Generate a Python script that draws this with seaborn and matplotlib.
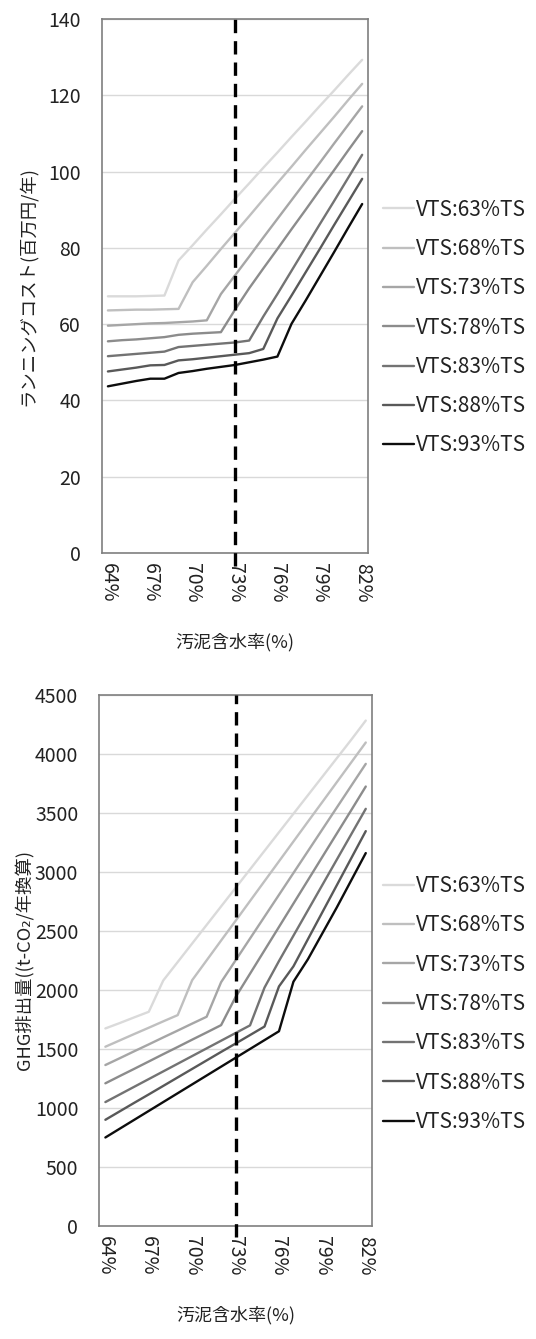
import numpy as np
import pandas as pd
import matplotlib
matplotlib.use('Agg')
import matplotlib.pyplot as plt
import seaborn as sns

sns.set_theme(style='white')
plt.rcParams['font.family'] = ['Noto Sans CJK JP', 'DejaVu Sans']

# sludge moisture content (%)
moisture = list(range(64, 83))
tick_pcts = [64, 67, 70, 73, 76, 79, 82]
series_names = ['VTS:63%TS', 'VTS:68%TS', 'VTS:73%TS', 'VTS:78%TS',
                'VTS:83%TS', 'VTS:88%TS', 'VTS:93%TS']
gray_ramp = ['#dadada', '#bfbfbf', '#a6a6a6', '#8c8c8c', '#737373', '#595959', '#0d0d0d']

# running cost (million yen / year)
cost_63 = [67.3, 67.3, 67.3, 67.4, 67.5, 76.7, 80.7, 84.8, 88.8, 92.9,
           96.9, 101.0, 105.0, 109.1, 113.1, 117.2, 121.2, 125.3, 129.3]
cost_68 = [63.6, 63.7, 63.8, 63.8, 63.9, 64.0, 71.0, 75.3, 79.7, 84.0,
           88.3, 92.7, 97.0, 101.3, 105.7, 110.0, 114.3, 118.7, 123.0]
cost_73 = [59.6, 59.8, 60.0, 60.2, 60.3, 60.5, 60.7, 61.0, 67.9, 72.8,
           77.7, 82.7, 87.6, 92.5, 97.4, 102.3, 107.3, 112.2, 117.1]
cost_78 = [55.5, 55.8, 56.0, 56.3, 56.6, 57.2, 57.5, 57.7, 57.9, 63.8,
           69.4, 74.6, 79.7, 84.9, 90.0, 95.2, 100.3, 105.5, 110.6]
cost_83 = [51.6, 51.9, 52.2, 52.5, 52.8, 54.0, 54.3, 54.6, 54.9, 55.2,
           55.7, 62.0, 67.9, 74.0, 80.1, 86.2, 92.2, 98.3, 104.4]
cost_88 = [47.6, 48.1, 48.6, 49.2, 49.3, 50.5, 50.8, 51.2, 51.6, 52.0,
           52.4, 53.5, 61.5, 67.5, 73.6, 79.7, 85.9, 92.0, 98.1]
cost_93 = [43.7, 44.4, 45.1, 45.7, 45.7, 47.2, 47.7, 48.3, 48.8, 49.3,
           50.0, 50.7, 51.5, 60.1, 66.2, 72.5, 78.8, 85.2, 91.5]

# GHG emissions (t-CO2 / year)
ghg_63 = [1674, 1720, 1768, 1815, 2080, 2237, 2394, 2551, 2708, 2865,
          3022, 3179, 3336, 3493, 3650, 3807, 3964, 4121, 4283]
ghg_68 = [1519, 1573, 1627, 1680, 1734, 1787, 2083, 2251, 2419, 2586,
          2754, 2922, 3090, 3258, 3426, 3593, 3761, 3929, 4097]
ghg_73 = [1364, 1422, 1481, 1539, 1598, 1656, 1715, 1773, 2066, 2251,
          2436, 2621, 2806, 2991, 3176, 3361, 3546, 3731, 3916]
ghg_78 = [1209, 1271, 1332, 1394, 1456, 1517, 1579, 1640, 1702, 1940,
          2138, 2336, 2534, 2732, 2930, 3128, 3326, 3524, 3724]
ghg_83 = [1050, 1115, 1180, 1245, 1310, 1375, 1440, 1505, 1570, 1635,
          1700, 2020, 2245, 2460, 2675, 2890, 3105, 3320, 3535]
ghg_88 = [900, 972, 1044, 1115, 1187, 1259, 1331, 1403, 1475, 1546,
          1618, 1690, 2030, 2200, 2430, 2659, 2888, 3117, 3346]
ghg_93 = [750, 825, 900, 975, 1050, 1125, 1200, 1275, 1350, 1425,
          1500, 1575, 1650, 2070, 2260, 2480, 2700, 2930, 3160]

cost_series = [cost_63, cost_68, cost_73, cost_78, cost_83, cost_88, cost_93]
ghg_series = [ghg_63, ghg_68, ghg_73, ghg_78, ghg_83, ghg_88, ghg_93]


def to_long(series_list):
    frames = []
    for name, vals in zip(series_names, series_list):
        frames.append(pd.DataFrame({'moisture': moisture, 'value': vals, 'VTS': name}))
    return pd.concat(frames, ignore_index=True)


def draw_panel(ax, df, ymax, ystep, ylabel, ylabel_x, legend_y, dash_ext):
    sns.lineplot(data=df, x='moisture', y='value', hue='VTS', palette=gray_ramp,
                 hue_order=series_names, linewidth=1.7, ax=ax, legend=True)
    ax.axvline(73, ymin=-dash_ext, ymax=1, color='black', linewidth=2.4,
               linestyle=(0, (4.0, 2.4)), clip_on=False, zorder=5)

    ax.set_xlim(63.57, 82.43)
    ax.set_ylim(0, ymax)
    ax.set_yticks(np.arange(0, ymax + 1, ystep))
    ax.set_xticks(tick_pcts)
    ax.set_xticklabels([f'{p}%' for p in tick_pcts], rotation=-90)
    ax.tick_params(axis='x', length=0, pad=7, labelsize=14, colors='#222222')
    ax.tick_params(axis='y', length=0, pad=15, labelsize=14, colors='#222222')

    ax.yaxis.grid(True, color='#d9d9d9', linewidth=1)
    ax.xaxis.grid(False)
    for side in ax.spines.values():
        side.set_color('#7f7f7f')
        side.set_linewidth(1.2)

    ax.set_xlabel('汚泥含水率(%)', fontsize=13, labelpad=22, color='#222222')
    ax.set_ylabel(ylabel, fontsize=13.2, color='#222222')
    ax.yaxis.set_label_coords(ylabel_x, 0.5)

    handles, labels = ax.get_legend_handles_labels()
    ax.legend(handles, labels, loc='center left', frameon=False,
              bbox_to_anchor=(0.714, legend_y), bbox_transform=ax.figure.transFigure,
              borderaxespad=0, borderpad=0, handlelength=1.5, handletextpad=0.1,
              labelspacing=0.83, fontsize=15, labelcolor='#222222')


fig = plt.figure(figsize=(5.36, 13.39), dpi=100)
ax_cost = fig.add_axes([0.190, 0.587, 0.497, 0.3988])
ax_ghg = fig.add_axes([0.185, 0.0844, 0.509, 0.3966])

draw_panel(ax_cost, to_long(cost_series), 140, 20,
           'ランニングコスト(百万円/年)', -0.245, 0.7554, 0.025)
draw_panel(ax_ghg, to_long(ghg_series), 4500, 500,
           'GHG排出量((t-CO₂/年換算)', -0.24, 0.2502, 0.021)

fig.savefig('out.png', dpi=100, facecolor='white')
